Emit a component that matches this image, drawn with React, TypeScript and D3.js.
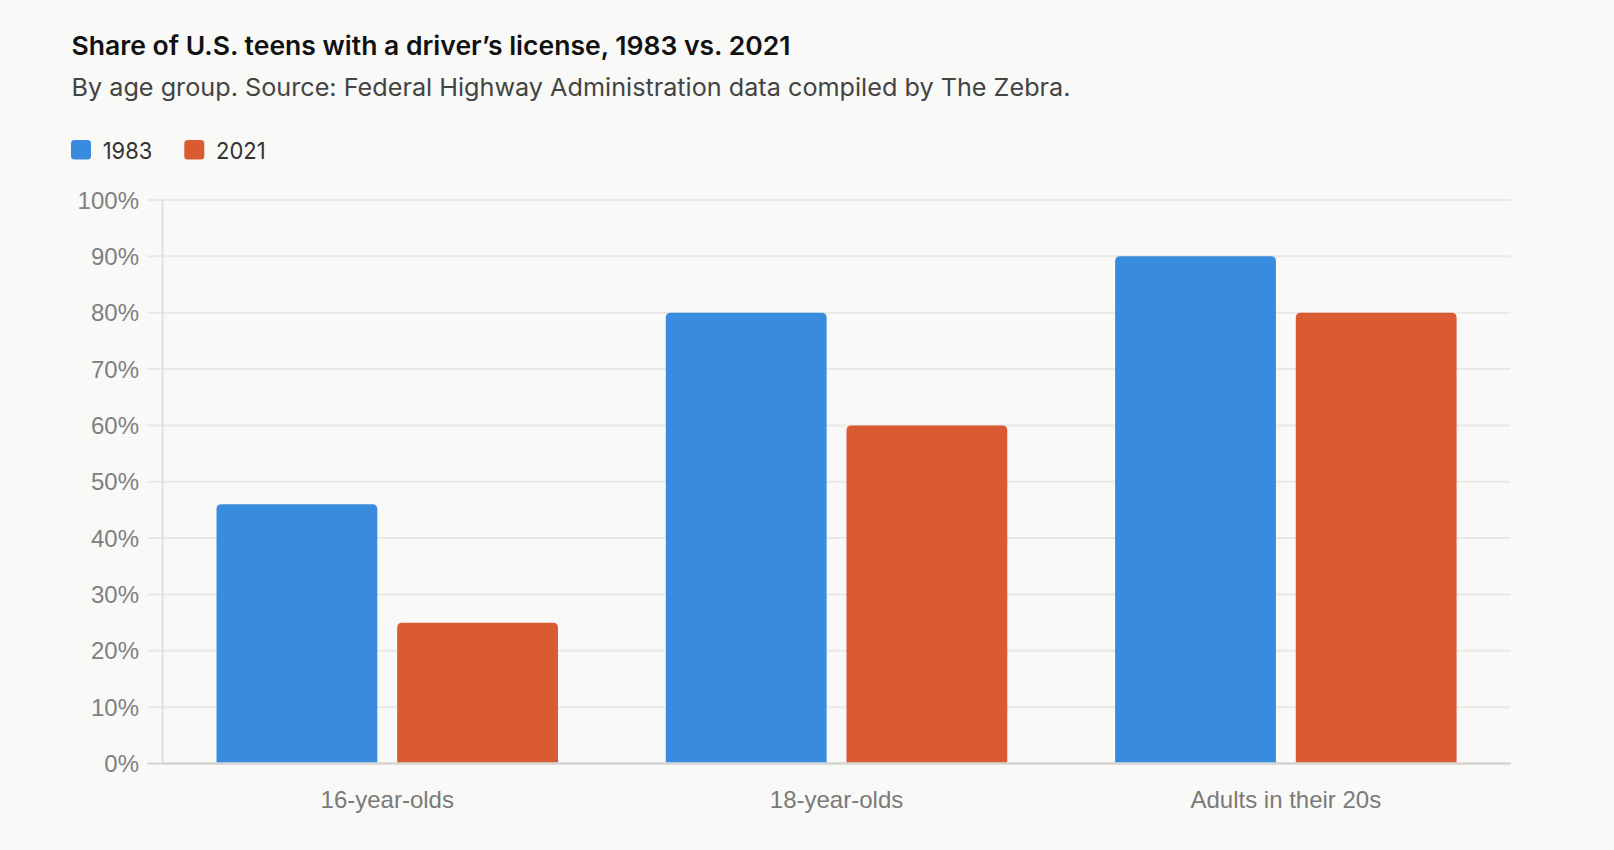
import React from "react";
import * as d3 from "d3";

const categories = ["16-year-olds", "18-year-olds", "Adults in their 20s"];
const seriesNames = ["1983", "2021"];
const values1983 = [46, 80, 90];
const values2021 = [25, 60, 80];
const yTicks = [0, 10, 20, 30, 40, 50, 60, 70, 80, 90, 100];
const colors = ["#388BDD", "#DA5A32"];

const W = 1614;
const H = 850;
const margin = { left: 162.6, right: 1510.5, top: 200, bottom: 763.5 };

function topRoundedRect(x: number, y: number, w: number, h: number, r: number) {
  const rr = Math.min(r, h, w / 2);
  return `M${x},${y + h}V${y + rr}Q${x},${y} ${x + rr},${y}H${x + w - rr}Q${x + w},${y} ${x + w},${y + rr}V${y + h}Z`;
}

export default function App() {
  const x0 = d3
    .scaleBand<string>()
    .domain(categories)
    .range([margin.left, margin.right])
    .paddingInner(0.24)
    .paddingOuter(0.12);
  const x1 = d3
    .scaleBand<string>()
    .domain(seriesNames)
    .range([0, x0.bandwidth()])
    .paddingInner(0.11);
  const y = d3.scaleLinear().domain([0, 100]).range([margin.bottom, margin.top]);
  const series = [values1983, values2021];
  const sansUI = "Inter, 'Noto Sans', sans-serif";
  const axisFont = "'Liberation Sans', Arial, sans-serif";

  return (
    <svg
      width={W}
      height={H}
      style={{ position: "absolute", left: 0, top: 0, display: "block" }}
    >
      <rect x={0} y={0} width={W} height={H} fill="#F9F9F7" />
      <text
        x={71.5}
        y={55}
        fontFamily={sansUI}
        fontWeight={600}
        fontSize={26}
        fill="#111"
        textLength={719}
        lengthAdjust="spacingAndGlyphs"
      >
        Share of U.S. teens with a driver’s license, 1983 vs. 2021
      </text>
      <text
        x={71.5}
        y={96}
        fontFamily={sansUI}
        fontSize={24.5}
        fill="#444"
        textLength={999}
        lengthAdjust="spacingAndGlyphs"
      >
        By age group. Source: Federal Highway Administration data compiled by The Zebra.
      </text>
      {seriesNames.map((s, i) => {
        const lx = i === 0 ? 71 : 184.3;
        return (
          <g key={s}>
            <rect x={lx} y={140} width={20} height={19.5} rx={3.5} fill={colors[i]} />
            <text
              x={lx + 31.7}
              y={159.3}
              fontFamily={sansUI}
              fontSize={23.5}
              fill="#333"
              textLength={49.6}
              lengthAdjust="spacingAndGlyphs"
            >
              {s}
            </text>
          </g>
        );
      })}
      {yTicks.map((t) => (
        <g key={t}>
          <line
            x1={147.5}
            x2={margin.right}
            y1={y(t)}
            y2={y(t)}
            stroke={t === 0 ? "#D4D4D4" : "#E8E8E6"}
            strokeWidth={2}
          />
          <text
            x={139}
            y={y(t)}
            dy="0.36em"
            textAnchor="end"
            fontFamily={axisFont}
            fontSize={24}
            fill="#808080"
          >
            {t}%
          </text>
        </g>
      ))}
      <line
        x1={margin.left}
        x2={margin.left}
        y1={margin.top}
        y2={margin.bottom}
        stroke="#E0E0E0"
        strokeWidth={2}
      />
      {categories.map((c, ci) => (
        <g key={c} transform={`translate(${x0(c)},0)`}>
          {seriesNames.map((s, si) => {
            const v = series[si][ci];
            const bx = x1(s)!;
            const by = y(v);
            const bh = y(0) - by - 1;
            return (
              <path
                key={s}
                d={topRoundedRect(bx, by, x1.bandwidth(), bh, 5)}
                fill={colors[si]}
              />
            );
          })}
          <text
            x={x0.bandwidth() / 2}
            y={808}
            textAnchor="middle"
            fontFamily={axisFont}
            fontSize={24}
            fill="#7A7A7A"
          >
            {c}
          </text>
        </g>
      ))}
      <line
        x1={margin.left}
        x2={margin.right}
        y1={margin.bottom}
        y2={margin.bottom}
        stroke="#D4D4D4"
        strokeWidth={2}
      />
    </svg>
  );
}
